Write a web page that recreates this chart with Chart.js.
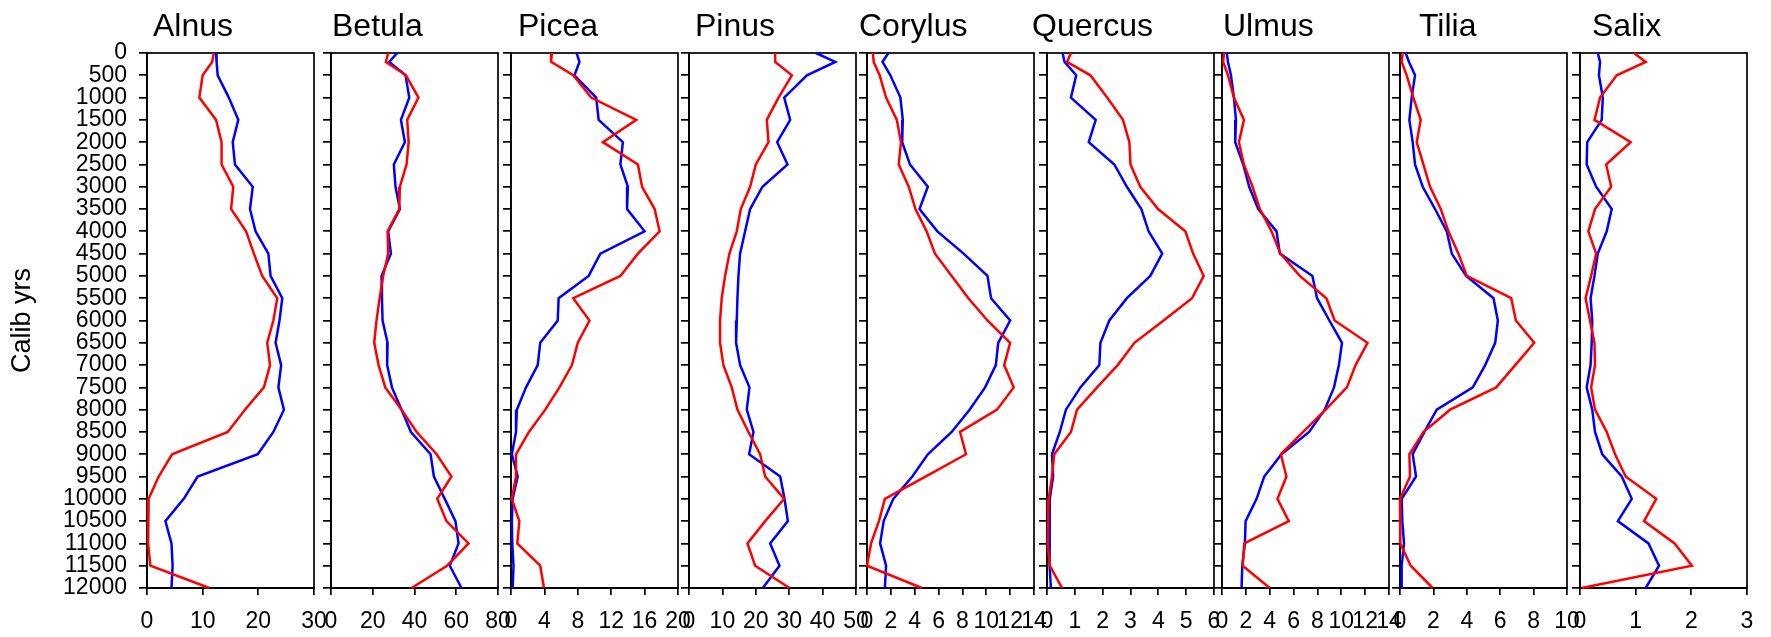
<!DOCTYPE html>
<html>
<head>
<meta charset="utf-8">
<title>Pollen percentages, last 12000 calibrated years</title>
<script src="https://cdn.jsdelivr.net/npm/chart.js@4.4.1/dist/chart.umd.min.js"></script>
<style>
  html, body { margin: 0; padding: 0; background: #ffffff; }
  #wrap { position: relative; width: 1771px; height: 637px; overflow: hidden; background: #ffffff; }
  #wrap canvas { position: absolute; top: 0; }
</style>
</head>
<body>
<div id="wrap"></div>
<script>
// Sample ages (calibrated years BP)
const ages = [0, 200, 500, 1000, 1500, 2000, 2500, 3000, 3500, 4000, 4500, 5000, 5500,
              6000, 6500, 7000, 7500, 8000, 8500, 9000, 9500, 10000, 10500, 11000, 11500, 12000];

// Taxa and their percentage axes
const taxa  = ['Alnus', 'Betula', 'Picea', 'Pinus', 'Corylus', 'Quercus', 'Ulmus', 'Tilia', 'Salix'];
const xMax  = [30, 80, 20, 50, 14, 6, 14, 10, 3];
const xStep = [10, 20, 4, 10, 2, 1, 2, 2, 1];
const yTickStep = 500;
const yMaxAge = 12000;

// Blue record
const blueAlnus   = [12.4, 12.5, 12.7, 14.7, 16.4, 15.4, 15.8, 19.0, 18.5, 19.5, 21.8, 22.2, 24.3, 23.8, 23.1, 24.1, 23.6, 24.6, 22.7, 19.9, 9.1, 6.6, 3.3, 4.4, 4.6, 4.4];
const blueBetula  = [31.7, 27.9, 35.7, 37.5, 33.5, 35.4, 30.1, 30.9, 33.0, 27.4, 28.7, 24.2, 24.4, 24.7, 27.1, 26.9, 29.2, 33.8, 38.3, 47.7, 49.3, 54.5, 59.6, 61.1, 56.9, 62.5];
const bluePicea   = [7.85, 8.2, 7.6, 10.2, 10.5, 13.4, 13.1, 14.0, 13.9, 16.0, 10.7, 9.3, 5.7, 5.6, 3.5, 3.2, 1.8, 0.7, 0.6, 0.1, 0.8, 0.2, 0.1, 0.15, 0.3, 0.2];
const bluePinus   = [38.0, 43.8, 35.3, 28.5, 30.3, 26.4, 29.5, 22.0, 18.3, 16.8, 15.3, 14.8, 14.5, 14.3, 14.1, 15.3, 18.1, 17.3, 19.3, 18.0, 27.3, 28.6, 29.6, 24.3, 27.1, 22.1];
const blueCorylus = [1.8, 1.3, 1.96, 2.8, 3.0, 2.95, 3.6, 5.1, 4.4, 5.9, 8.1, 10.1, 10.4, 12.0, 11.0, 10.8, 9.9, 8.6, 7.1, 5.1, 3.8, 2.2, 1.4, 1.1, 1.6, 1.5];
const blueQuercus = [0.56, 0.63, 1.05, 0.86, 1.75, 1.5, 2.42, 2.87, 3.39, 3.65, 4.14, 3.71, 2.87, 2.24, 1.92, 1.88, 1.2, 0.68, 0.46, 0.18, 0.22, 0.1, 0.08, 0.1, 0.1, 0.14];
const blueUlmus   = [0.4, 0.5, 0.75, 1.0, 1.17, 1.11, 1.78, 2.28, 3.04, 4.57, 4.85, 7.58, 7.97, 9.0, 10.06, 9.8, 9.39, 8.61, 7.3, 4.99, 3.54, 2.9, 1.98, 1.92, 1.7, 1.64];
const blueTilia   = [0.34, 0.54, 0.9, 0.7, 0.56, 0.76, 0.9, 1.36, 2.1, 2.8, 3.1, 3.96, 5.6, 5.86, 5.7, 5.1, 4.36, 2.2, 1.46, 0.76, 0.96, 0.1, 0.14, 0.24, 0.1, 0.1];
const blueSalix   = [0.32, 0.36, 0.34, 0.41, 0.39, 0.13, 0.12, 0.29, 0.57, 0.48, 0.32, 0.26, 0.19, 0.22, 0.21, 0.19, 0.12, 0.22, 0.27, 0.4, 0.75, 0.93, 0.68, 1.23, 1.42, 1.18];

// Red record
const redAlnus   = [12.0, 11.7, 10.0, 9.4, 12.4, 13.4, 13.4, 15.5, 15.1, 17.8, 19.2, 20.7, 23.4, 22.7, 21.6, 22.1, 21.0, 17.6, 14.5, 4.5, 2.1, 0.3, 0.2, 0.2, 0.6, 11.2];
const redBetula  = [27.4, 26.3, 35.9, 41.9, 36.5, 37.2, 36.2, 33.0, 32.7, 27.1, 27.4, 25.0, 23.3, 21.8, 20.7, 22.8, 26.0, 33.8, 41.0, 50.6, 57.7, 50.9, 55.3, 65.9, 55.6, 38.6];
const redPicea   = [4.9, 4.8, 7.45, 9.6, 15.0, 11.0, 15.2, 15.7, 17.2, 17.8, 15.2, 13.1, 7.45, 9.4, 8.0, 7.3, 5.8, 4.1, 2.15, 0.6, 0.6, 0.1, 1.0, 0.75, 3.5, 3.95];
const redPinus   = [25.8, 25.8, 30.8, 26.8, 23.3, 23.8, 20.0, 18.3, 15.5, 14.3, 12.1, 10.8, 9.8, 9.3, 9.3, 10.3, 12.8, 14.5, 17.8, 21.3, 22.8, 28.5, 22.8, 17.5, 19.8, 30.1];
const redCorylus = [0.5, 0.56, 1.06, 1.6, 2.5, 2.85, 2.66, 3.5, 4.06, 5.0, 5.7, 7.1, 8.5, 10.1, 12.0, 11.5, 12.3, 10.9, 7.8, 8.3, 4.9, 1.5, 1.0, 0.34, 0.0, 4.6];
const redQuercus = [0.86, 0.72, 1.56, 2.16, 2.73, 2.96, 3.0, 3.35, 3.99, 4.97, 5.25, 5.63, 5.21, 4.19, 3.14, 2.54, 1.8, 1.08, 0.86, 0.26, 0.18, 0.06, 0.04, 0.02, 0.1, 0.54];
const redUlmus   = [0.17, 0.1, 0.5, 1.0, 1.84, 1.42, 1.84, 2.56, 3.18, 4.15, 4.9, 6.52, 8.75, 9.44, 12.2, 11.2, 10.47, 8.69, 6.8, 4.93, 5.4, 4.65, 5.6, 1.87, 1.73, 4.0];
const redTilia   = [0.16, 0.1, 0.4, 0.8, 1.24, 1.0, 1.4, 1.8, 2.44, 2.9, 3.5, 4.0, 6.66, 6.94, 8.04, 6.9, 5.76, 3.0, 1.4, 0.56, 0.6, 0.0, 0.04, 0.0, 0.64, 1.96];
const redSalix   = [0.97, 1.18, 0.66, 0.36, 0.26, 0.91, 0.47, 0.56, 0.27, 0.15, 0.29, 0.2, 0.1, 0.18, 0.26, 0.27, 0.2, 0.27, 0.48, 0.63, 0.82, 1.37, 1.15, 1.7, 2.01, 0.03];

const blueSeries = [blueAlnus, blueBetula, bluePicea, bluePinus, blueCorylus, blueQuercus, blueUlmus, blueTilia, blueSalix];
const redSeries  = [redAlnus, redBetula, redPicea, redPinus, redCorylus, redQuercus, redUlmus, redTilia, redSalix];

// Page layout
const PAGE_H = 637;
const plotTop = 53;
const plotBottom = 588;
const plotWidth = 167;
const panelLeft  = [147, 331, 511, 689, 867, 1047, 1222, 1400, 1580];
const titleShift = [6, 1, 7, 6, -8, -15, 1, 19, 12];
const gutter = 20;          // room for the last tick label on the right
const innerAxisWidth = 20;  // tick-only y axis of the inner panels
const FONT = '"Liberation Sans", Arial, Helvetica, sans-serif';
const AXIS_W = 1.7;

// Closed box around each plot area
const framePlugin = {
  id: 'frame',
  beforeDatasetsDraw(chart) {
    const { ctx, chartArea: a } = chart;
    ctx.save();
    ctx.strokeStyle = '#000';
    ctx.lineWidth = AXIS_W;
    ctx.strokeRect(a.left, a.top, a.right - a.left, a.bottom - a.top);
    ctx.restore();
  }
};

// Taxon name above each panel
const panelNamePlugin = {
  id: 'panelName',
  afterDraw(chart, args, opts) {
    const { ctx, chartArea: a } = chart;
    ctx.save();
    ctx.font = '32px ' + FONT;
    ctx.fillStyle = '#000';
    ctx.textAlign = 'left';
    ctx.textBaseline = 'alphabetic';
    ctx.fillText(opts.text, a.left + opts.shift, opts.baseline);
    ctx.restore();
  }
};

function toPoints(values) {
  return values.map((v, k) => ({ x: v, y: ages[k] }));
}

const plainNumber = (v) => String(v);

const wrap = document.getElementById('wrap');

taxa.forEach((name, i) => {
  const first = i === 0;
  const yW = first ? panelLeft[0] : innerAxisWidth;
  const cw = yW + plotWidth + gutter;
  const cv = document.createElement('canvas');
  cv.width = cw;
  cv.height = PAGE_H;
  cv.style.left = (panelLeft[i] - yW) + 'px';
  cv.style.width = cw + 'px';
  cv.style.height = PAGE_H + 'px';
  wrap.appendChild(cv);

  const lineStyle = { borderWidth: 2.5, pointRadius: 0, pointHoverRadius: 0, tension: 0, fill: false, clip: false };

  new Chart(cv, {
    type: 'line',
    data: {
      datasets: [
        Object.assign({ label: name + ' (red)',  data: toPoints(redSeries[i]),  borderColor: '#ff0000' }, lineStyle),
        Object.assign({ label: name + ' (blue)', data: toPoints(blueSeries[i]), borderColor: '#0000ff' }, lineStyle)
      ]
    },
    options: {
      responsive: false,
      animation: false,
      devicePixelRatio: 1,
      events: [],
      layout: { padding: { top: plotTop, right: gutter, bottom: 0, left: 0 } },
      plugins: {
        legend: { display: false },
        tooltip: { enabled: false },
        title: { display: false },
        panelName: { text: name, shift: titleShift[i], baseline: 36 }
      },
      scales: {
        x: {
          type: 'linear',
          position: 'bottom',
          min: 0,
          max: xMax[i],
          ticks: {
            stepSize: xStep[i],
            autoSkip: false,
            maxRotation: 0,
            minRotation: 0,
            padding: 13,
            color: '#000',
            font: { family: FONT, size: 23 },
            callback: plainNumber
          },
          grid: { drawOnChartArea: false, drawTicks: true, tickLength: 7, color: '#000', lineWidth: AXIS_W },
          border: { display: true, color: '#000', width: AXIS_W },
          afterFit(s) { s.height = PAGE_H - plotBottom; s.paddingLeft = 0; s.paddingRight = 0; }
        },
        y: {
          type: 'linear',
          position: 'left',
          reverse: true,
          min: 0,
          max: yMaxAge,
          ticks: {
            display: first,
            stepSize: yTickStep,
            autoSkip: false,
            padding: 12,
            color: '#000',
            font: { family: FONT, size: 23 },
            callback: plainNumber
          },
          grid: { drawOnChartArea: false, drawTicks: true, tickLength: 8, color: '#000', lineWidth: AXIS_W },
          border: { display: true, color: '#000', width: AXIS_W },
          title: {
            display: first,
            text: 'Calib yrs',
            color: '#000',
            font: { family: FONT, size: 27 },
            padding: { top: 6, bottom: 0 }
          },
          afterFit(s) { s.width = yW; s.paddingTop = 0; s.paddingBottom = 0; }
        }
      }
    },
    plugins: [framePlugin, panelNamePlugin]
  });
});
</script>
</body>
</html>
